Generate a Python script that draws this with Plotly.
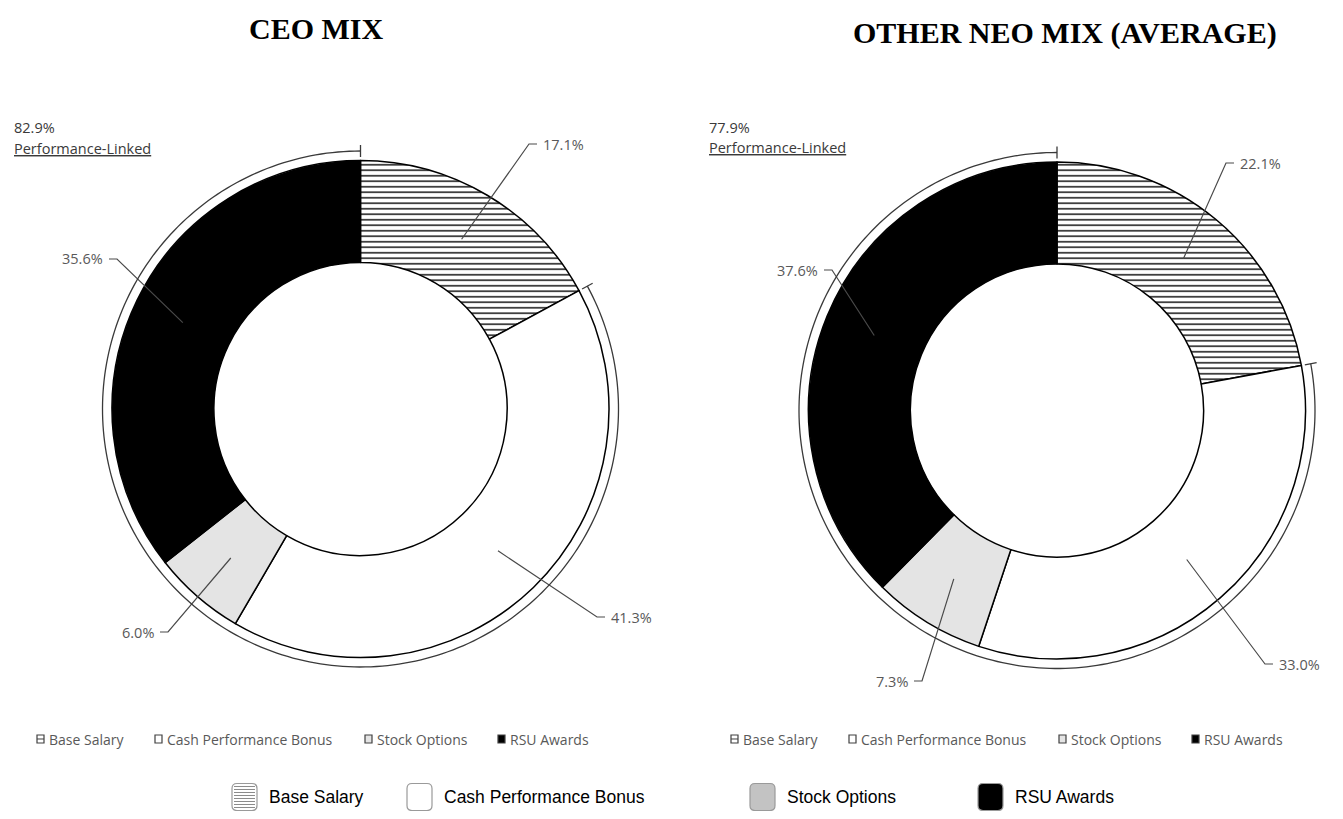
import numpy as np
import plotly.graph_objects as go

# ---------------- data ----------------
categories = ["Base Salary", "Cash Performance Bonus", "Stock Options", "RSU Awards"]
ceo_values = [17.1, 41.3, 6.0, 35.6]
neo_values = [22.1, 33.0, 7.3, 37.6]
chart_titles = ["CEO MIX", "OTHER NEO MIX (AVERAGE)"]
linked_caption = "Performance-Linked"

# ---------------- layout / style ----------------
PAGE_W, PAGE_H = 1343, 819
OFF = 8                      # default body margin of the html page
W, H = PAGE_W - 2 * OFF, PAGE_H - 2 * OFF
centers = [(360.5, 409.0), (1057.0, 410.5)]
R = 248.5
HOLE = 0.59
BRACKET_R = 258.0
title_pos = [(316, 29), (1065, 33)]
caption_pos = [(12, 128), (707, 127)]
# elbow of each leader line, pixel offset from the donut centre
elbows = [[(168.5, -265), (236.5, 208), (-192.5, 223), (-243.5, -150)],
          [(169, -247.5), (208, 253.5), (-135, 270.5), (-225, -140.5)]]
small_legend_x = [[37, 155, 365, 498], [731, 849, 1059, 1192]]
small_legend_y = 739
big_legend_x = [232, 407, 750, 978]
big_legend_y = 797

slice_colors = ["white", "white", "#e4e4e4", "black"]
slice_patterns = ["-", "", "", ""]
small_marker_fill = ["white", "white", "#e4e4e4", "black"]
big_swatch_fill = ["white", "white", "#c3c3c3", "black"]
GRAY = "#595959"
LEADER = "#4a4a4a"
DARK = "#3a3a3a"
LABEL_FONT = "Open Sans"


def px(x):
    return (x - OFF) / W


def py(y):
    return 1 - (y - OFF) / H


def poly(points, close=False):
    s = "M " + " L ".join(f"{px(x):.6f},{py(y):.6f}" for x, y in points)
    return s + (" Z" if close else "")


def polar(c, r, theta_deg):
    t = np.radians(theta_deg)
    return c[0] + r * np.sin(t), c[1] - r * np.cos(t)


def rounded_rect(x0, y0, w, h, r):
    def p(x, y):
        return f"{px(x):.6f},{py(y):.6f}"
    return (f"M {p(x0 + r, y0)} L {p(x0 + w - r, y0)} Q {p(x0 + w, y0)} {p(x0 + w, y0 + r)} "
            f"L {p(x0 + w, y0 + h - r)} Q {p(x0 + w, y0 + h)} {p(x0 + w - r, y0 + h)} "
            f"L {p(x0 + r, y0 + h)} Q {p(x0, y0 + h)} {p(x0, y0 + h - r)} "
            f"L {p(x0, y0 + r)} Q {p(x0, y0)} {p(x0 + r, y0)} Z")


fig = go.Figure()
shapes = []
annotations = []

for i, vals in enumerate([ceo_values, neo_values]):
    c = centers[i]
    fig.add_trace(go.Pie(
        values=vals, labels=categories, sort=False, direction="clockwise", rotation=0,
        hole=HOLE, textinfo="none", hoverinfo="label+value", showlegend=False,
        marker=dict(colors=slice_colors, line=dict(color="black", width=1.5),
                    pattern=dict(shape=slice_patterns, fgcolor="black", size=5.5, solidity=0.25)),
        domain=dict(x=[px(c[0] - R), px(c[0] + R)], y=[py(c[1] + R), py(c[1] - R)]),
    ))

    total = sum(vals)
    cum = np.concatenate([[0], np.cumsum(vals)]) / total * 360.0

    # leader lines + value labels
    r_mid = R * (1 + HOLE) / 2
    for k, v in enumerate(vals):
        mid = (cum[k] + cum[k + 1]) / 2
        sx, sy = polar(c, r_mid, mid)
        ex, ey = c[0] + elbows[i][k][0], c[1] + elbows[i][k][1]
        side = 1 if elbows[i][k][0] > 0 else -1
        hx = ex + side * 8
        shapes.append(dict(type="path", xref="paper", yref="paper",
                           path=poly([(sx, sy), (ex, ey), (hx, ey)]),
                           line=dict(color=LEADER, width=1.2), layer="above"))
        annotations.append(dict(x=px(hx + side * 4), y=py(ey), xref="paper", yref="paper",
                                text=f"{v:.1f}%", showarrow=False,
                                xanchor="left" if side > 0 else "right", yanchor="middle",
                                font=dict(family=LABEL_FONT, size=14.5, color=GRAY)))

    # performance-linked bracket (everything except base salary)
    base_angle = cum[1]
    thetas = np.linspace(base_angle, 360.0, 240)
    arc = [polar(c, BRACKET_R, t) for t in thetas]
    shapes.append(dict(type="path", xref="paper", yref="paper", path=poly(arc),
                       line=dict(color=DARK, width=1.3), layer="above"))
    for t in (0.0, base_angle):
        shapes.append(dict(type="path", xref="paper", yref="paper",
                           path=poly([polar(c, BRACKET_R - 6, t), polar(c, BRACKET_R + 6, t)]),
                           line=dict(color=DARK, width=1.3), layer="above"))
    linked = 100 - vals[0]
    cx0, cy0 = caption_pos[i]
    annotations.append(dict(x=px(cx0), y=py(cy0), xref="paper", yref="paper",
                            text=f"{linked:.1f}%", showarrow=False, xanchor="left", yanchor="middle",
                            font=dict(family=LABEL_FONT, size=14.5, color=DARK)))
    annotations.append(dict(x=px(cx0), y=py(cy0 + 20), xref="paper", yref="paper",
                            text=f"<u>{linked_caption}</u>", showarrow=False, xanchor="left",
                            yanchor="middle", font=dict(family=LABEL_FONT, size=14.5, color=DARK)))

    # title
    tx, ty = title_pos[i]
    annotations.append(dict(x=px(tx), y=py(ty), xref="paper", yref="paper",
                            text=f"<b>{chart_titles[i]}</b>", showarrow=False,
                            xanchor="center", yanchor="middle",
                            font=dict(family="Liberation Serif", size=30, color="black")))

    # small legend under each donut
    for k, name in enumerate(categories):
        mx = small_legend_x[i][k]
        my = small_legend_y
        shapes.append(dict(type="rect", xref="paper", yref="paper",
                           x0=px(mx), x1=px(mx + 7), y0=py(my + 4), y1=py(my - 4),
                           fillcolor=small_marker_fill[k], line=dict(color="#404040", width=1.2),
                           layer="above"))
        if slice_patterns[k]:
            shapes.append(dict(type="path", xref="paper", yref="paper",
                               path=poly([(mx, my), (mx + 7, my)]),
                               line=dict(color="#404040", width=1), layer="above"))
        annotations.append(dict(x=px(mx + 10), y=py(my), xref="paper", yref="paper",
                                text=name, showarrow=False, xanchor="left", yanchor="middle",
                                font=dict(family=LABEL_FONT, size=14, color=GRAY)))

# big legend at the bottom
for k, name in enumerate(categories):
    x0 = big_legend_x[k]
    y0 = big_legend_y - 13.5
    shapes.append(dict(type="path", xref="paper", yref="paper",
                       path=rounded_rect(x0, y0, 25, 27, 5),
                       fillcolor=big_swatch_fill[k], line=dict(color="#9a9a9a", width=1.2),
                       layer="above"))
    if slice_patterns[k]:
        for yy in np.arange(y0 + 3, y0 + 26, 3):
            shapes.append(dict(type="path", xref="paper", yref="paper",
                               path=poly([(x0 + 2, yy), (x0 + 23, yy)]),
                               line=dict(color="#8a8a8a", width=1), layer="above"))
    annotations.append(dict(x=px(x0 + 35), y=py(big_legend_y), xref="paper", yref="paper",
                            text=name, showarrow=False, xanchor="left", yanchor="middle",
                            font=dict(family="Liberation Sans", size=17.5, color="black")))

fig.update_layout(
    width=W, height=H, margin=dict(l=0, r=0, t=0, b=0),
    paper_bgcolor="white", plot_bgcolor="white",
    shapes=shapes, annotations=annotations, showlegend=False,
)

fig.write_html("out.html")
